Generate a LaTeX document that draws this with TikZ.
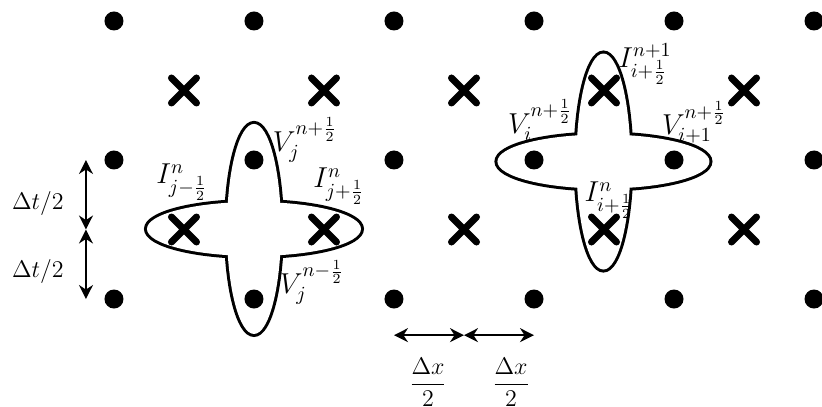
\documentclass[tikz,border=0pt]{standalone}
\usetikzlibrary{shapes.misc,arrows.meta}

\begin{document}
\begin{tikzpicture}[
        x=70pt, y=69.5pt,
        font=\fontsize{14}{16}\selectfont,
        grid dot/.style={circle, fill=black, inner sep=0pt, minimum size=9.5pt},
        grid cross/.style={cross out, draw=black, line width=3.5pt, line cap=round, inner sep=0pt, minimum size=9pt},
        stencil line/.style={draw=black, line width=3pt},
        dim arrow/.style={{Stealth[length=7pt,width=7pt]}-{Stealth[length=7pt,width=7pt]}, line width=0.8pt},
        dim label/.style={font=\fontsize{13}{15}\selectfont},
    ]

    % Khung hình
    \useasboundingbox (-0.814,-0.770) rectangle (5.057,2.151);
    \clip (-0.814,-0.770) rectangle (5.057,2.151);

    % Khuôn bên trái: viền vẽ dày rồi tô trắng phần trong
    \draw[stencil line] (1,0.504) ellipse [x radius=13.5pt, y radius=52.5pt];
    \draw[stencil line] (1,0.504) ellipse [x radius=53.5pt, y radius=13.5pt];
    \fill[white] (1,0.504) ellipse [x radius=13.5pt, y radius=52.5pt];
    \fill[white] (1,0.504) ellipse [x radius=53.5pt, y radius=13.5pt];

    % Khuôn bên phải
    \draw[stencil line] (3.496,0.989) ellipse [x radius=13.5pt, y radius=54pt];
    \draw[stencil line] (3.496,0.989) ellipse [x radius=53pt, y radius=13.5pt];
    \fill[white] (3.496,0.989) ellipse [x radius=13.5pt, y radius=54pt];
    \fill[white] (3.496,0.989) ellipse [x radius=53pt, y radius=13.5pt];

    % Các điểm điện áp
    \foreach \i in {0,...,5} {
        \foreach \j in {0,1,2} {
            \node[grid dot] (v-\i-\j) at (\i,\j) {};
        }
    }

    % Các điểm dòng điện
    \foreach \i in {0,...,4} {
        \foreach \j in {0,1} {
            \node[grid cross] (c-\i-\j) at (\i+0.5,\j+0.5) {};
        }
    }

    % Nhãn khuôn bên trái
    \node (lbl-vjp) at (1.364,1.144) {$V_j^{n+\frac{1}{2}}$};
    \node (lbl-ijm) at (0.486,0.842) {$I_{j-\frac{1}{2}}^{n}$};
    \node (lbl-ijp) at (1.607,0.813) {$I_{j+\frac{1}{2}}^{n}$};
    \node (lbl-vjm) at (1.414,0.122) {$V_j^{n-\frac{1}{2}}$};

    % Nhãn khuôn bên phải
    \node (lbl-iup) at (3.793,1.691) {$I_{i+\frac{1}{2}}^{n+1}$};
    \node (lbl-vi) at (3.043,1.288) {$V_i^{n+\frac{1}{2}}$};
    \node (lbl-vin) at (4.143,1.273) {$V_{i+1}^{n+\frac{1}{2}}$};
    \node (lbl-idn) at (3.536,0.712) {$I_{i+\frac{1}{2}}^{n}$};

    % Mũi tên bước thời gian
    \coordinate (t-top) at (-0.2,1);
    \coordinate (t-mid) at (-0.2,0.5);
    \coordinate (t-bot) at (-0.2,0);
    \draw[dim arrow] (t-top) -- (t-mid);
    \draw[dim arrow] (t-mid) -- (t-bot);
    \node[dim label] (dt-up) at (-0.543,0.69) {$\Delta t/2$};
    \node[dim label] (dt-dn) at (-0.543,0.2) {$\Delta t/2$};

    % Mũi tên bước không gian
    \coordinate (x-left) at (2,-0.26);
    \coordinate (x-mid) at (2.5,-0.26);
    \coordinate (x-right) at (3,-0.26);
    \draw[dim arrow] (x-left) -- (x-mid);
    \draw[dim arrow] (x-mid) -- (x-right);
    \node[dim label] (dx-left) at (2.243,-0.6) {$\displaystyle\frac{\Delta x}{2}$};
    \node[dim label] (dx-right) at (2.836,-0.6) {$\displaystyle\frac{\Delta x}{2}$};

\end{tikzpicture}
\end{document}
